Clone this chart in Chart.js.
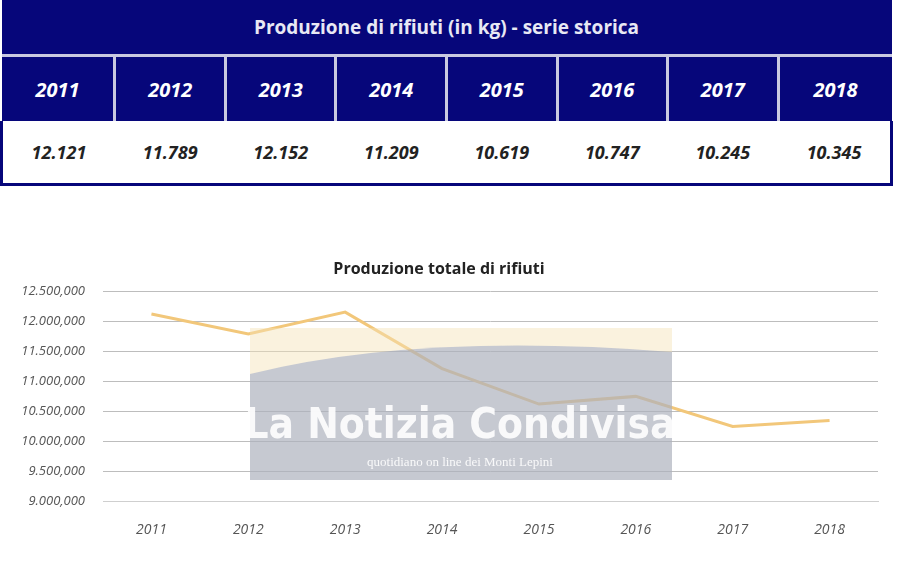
<!DOCTYPE html>
<html>
<head>
<meta charset="utf-8">
<script src="https://cdn.jsdelivr.net/npm/chart.js@4"></script>
<style>
  body { margin: 0; width: 900px; height: 572px; background: #fff; font-family: "Open Sans", sans-serif; position: relative; overflow: hidden; }
  #tbl { position: absolute; left: 0; top: 0; width: 893px; border-collapse: collapse; }
  #tbl th.title { background: #06067a; color: #e8e8f4; height: 52px; font-size: 19px; font-weight: bold; }
  #tbl td.y { background: #06067a; color: #fff; height: 62px; font-size: 20px; font-weight: bold; font-style: italic; text-align: center; border-left: 3px solid #c9c9e0; border-top: 3px solid #c9c9e0; }
  #tbl td.y:first-child { border-left: none; }
  #tbl td.v { height: 60px; font-size: 18px; font-weight: bold; font-style: italic; text-align: center; color: #222; border-bottom: 3px solid #06067a; }
  #tbl td.v:first-child { border-left: 3px solid #06067a; }
  #tbl td.v:last-child { border-right: 3px solid #06067a; }
  #wrap { position: absolute; left: 0; top: 256px; width: 900px; height: 302px; }
</style>
</head>
<body>
<table id="tbl">
  <tr><th class="title" colspan="8">Produzione di rifiuti (in kg) - serie storica</th></tr>
  <tr id="years"></tr>
  <tr id="vals"></tr>
</table>
<div id="wrap"><canvas id="c"></canvas></div>
<script>
const years = ['2011', '2012', '2013', '2014', '2015', '2016', '2017', '2018'];
const tableValues = ['12.121', '11.789', '12.152', '11.209', '10.619', '10.747', '10.245', '10.345'];
const production = [12121000, 11789000, 12152000, 11209000, 10619000, 10747000, 10245000, 10345000];

years.forEach((y, i) => {
  document.getElementById('years').insertAdjacentHTML('beforeend', '<td class="y">' + y + '</td>');
  document.getElementById('vals').insertAdjacentHTML('beforeend', '<td class="v">' + tableValues[i] + '</td>');
});

function fmt(v) {
  const s = String(v);
  const head = s.slice(0, s.length - 3).replace(/\B(?=(\d{3})+(?!\d))/g, '.');
  return head + ',' + s.slice(-3);
}

// faded newspaper watermark over the plot
const watermark = {
  id: 'watermark',
  afterDatasetsDraw(chart) {
    const ctx = chart.ctx;
    ctx.save();
    ctx.globalAlpha = 0.45;
    ctx.fillStyle = '#f3e3b5';
    ctx.fillRect(250, 72, 422, 152);
    ctx.fillStyle = '#8796c0';
    ctx.beginPath();
    ctx.moveTo(250, 118);
    ctx.quadraticCurveTo(420, 76, 672, 96);
    ctx.lineTo(672, 224);
    ctx.lineTo(250, 224);
    ctx.closePath();
    ctx.fill();
    ctx.globalAlpha = 0.9;
    ctx.fillStyle = '#ffffff';
    ctx.textAlign = 'center';
    ctx.font = 'bold 42px "DejaVu Sans Condensed", "Liberation Sans Narrow", sans-serif';
    ctx.fillText('La Notizia Condivisa', 460, 182);
    ctx.font = '13px "Liberation Serif", serif';
    ctx.fillText('quotidiano on line dei Monti Lepini', 460, 210);
    ctx.restore();
  }
};

new Chart(document.getElementById('c'), {
  type: 'line',
  data: {
    labels: years,
    datasets: [{
      data: production,
      borderColor: '#f2c77a',
      borderWidth: 3,
      pointRadius: 0,
      tension: 0
    }]
  },
  options: {
    responsive: true,
    maintainAspectRatio: false,
    animation: false,
    layout: { padding: { right: 22, bottom: 8 } },
    plugins: {
      legend: { display: false },
      tooltip: { enabled: false },
      title: {
        display: true,
        text: 'Produzione totale di rifiuti',
        color: '#222',
        font: { family: 'Open Sans', size: 16, weight: 'bold' },
        padding: { top: 4, bottom: 12 }
      }
    },
    scales: {
      x: {
        offset: true,
        grid: { display: false },
        border: { color: '#cfcfcf' },
        ticks: { color: '#555', font: { family: 'Open Sans', size: 14, style: 'italic' }, padding: 12 }
      },
      y: {
        min: 9000000,
        max: 12500000,
        afterFit(scale) { scale.width = 103; },
        grid: { color: '#bdbdbd', drawTicks: false },
        border: { display: false },
        ticks: {
          stepSize: 500000,
          color: '#555',
          padding: 18,
          font: { family: 'Open Sans', size: 13, style: 'italic' },
          callback: v => fmt(v)
        }
      }
    }
  },
  plugins: [watermark]
});
</script>
</body>
</html>
